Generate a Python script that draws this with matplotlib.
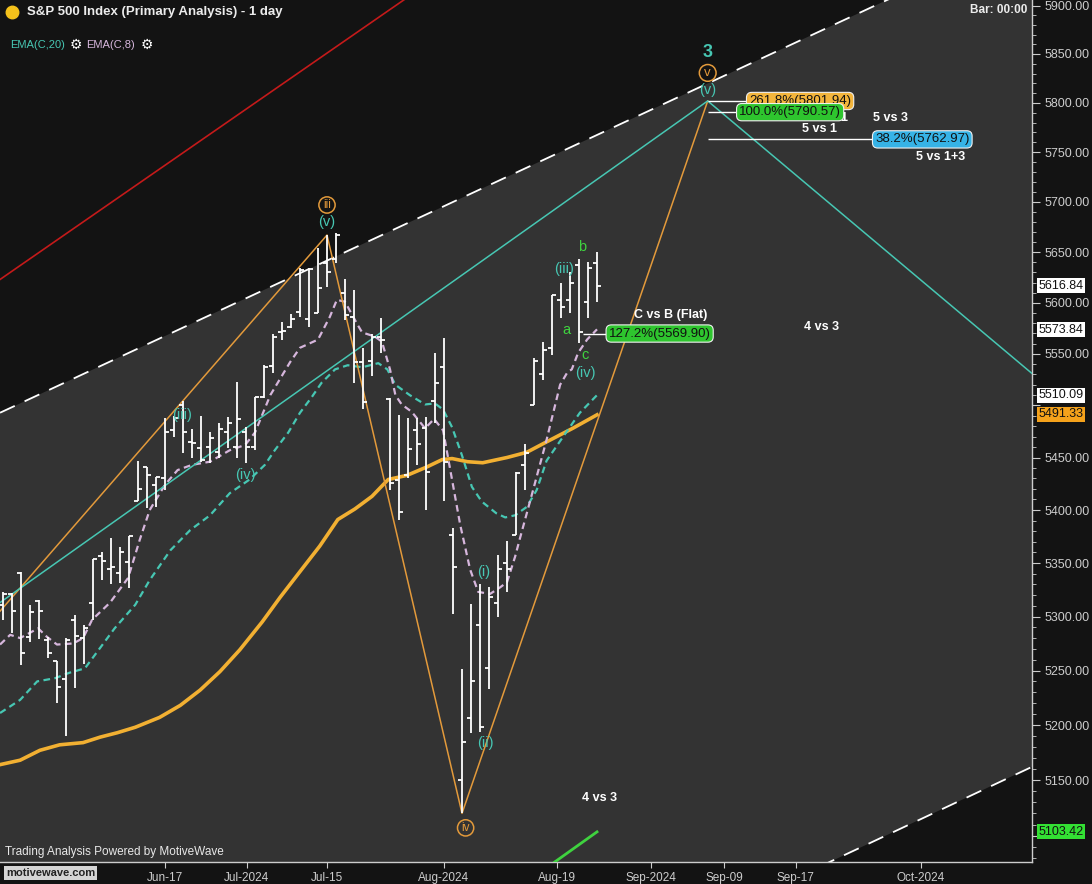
import numpy as np
import matplotlib.pyplot as plt
import matplotlib.transforms as mtrans
from matplotlib.ticker import FixedLocator, NullFormatter, FuncFormatter

plt.rcParams['font.family'] = ['Liberation Sans', 'DejaVu Sans']

# S&P 500 daily bars, bar 0 = 21 May 2024 ... bar 66 = 26 Aug 2024
opens = [5311, 5321, 5341, 5281, 5314, 5278, 5259, 5242, 5297, 5280,
         5313, 5357, 5344, 5341, 5351, 5409, 5441, 5424, 5430, 5476,
         5500, 5465, 5459, 5460, 5455, 5474, 5460, 5474, 5460, 5508,
         5538, 5571, 5576, 5591, 5584, 5590, 5639, 5643, 5610, 5586,
         5542, 5543, 5567, 5506, 5429, 5433, 5476, 5478, 5504, 5537,
         5376, 5150, 5206, 5292, 5252, 5313, 5350, 5376, 5443, 5500,
         5530, 5556, 5603, 5603, 5637, 5601, 5639]
highs = [5323, 5322, 5342, 5311, 5315, 5281, 5259, 5280, 5301, 5292,
         5354, 5360, 5374, 5365, 5375, 5447, 5441, 5431, 5488, 5490,
         5504, 5477, 5490, 5474, 5483, 5489, 5523, 5479, 5508, 5539,
         5569, 5581, 5589, 5634, 5634, 5654, 5667, 5669, 5623, 5613,
         5556, 5569, 5585, 5507, 5491, 5488, 5488, 5489, 5551, 5566,
         5383, 5251, 5312, 5330, 5328, 5358, 5371, 5436, 5463, 5546,
         5562, 5608, 5620, 5630, 5643, 5640, 5650]
lows = [5297, 5285, 5255, 5276, 5279, 5262, 5220, 5190, 5234, 5256,
        5297, 5334, 5330, 5331, 5327, 5409, 5402, 5403, 5419, 5470,
        5454, 5450, 5446, 5445, 5450, 5459, 5450, 5445, 5457, 5507,
        5531, 5564, 5575, 5586, 5576, 5590, 5616, 5639, 5583, 5522,
        5497, 5529, 5551, 5419, 5391, 5430, 5443, 5400, 5483, 5409,
        5302, 5120, 5193, 5194, 5233, 5300, 5323, 5376, 5419, 5500,
        5525, 5549, 5585, 5590, 5561, 5585, 5601]
closes = [5321, 5305, 5266, 5304, 5305, 5266, 5235, 5278, 5282, 5289,
          5354, 5352, 5346, 5360, 5375, 5420, 5433, 5431, 5474, 5488,
          5474, 5464, 5448, 5469, 5477, 5483, 5487, 5460, 5508, 5537,
          5567, 5572, 5584, 5632, 5633, 5615, 5630, 5667, 5588, 5542,
          5503, 5567, 5564, 5426, 5398, 5458, 5463, 5436, 5522, 5446,
          5346, 5185, 5240, 5198, 5318, 5344, 5344, 5435, 5454, 5543,
          5554, 5608, 5596, 5620, 5571, 5634, 5616.84]

# moving averages (bar position, value)
ema8_x = [-0.33, 0.8, 1.9, 3.9, 4.9, 6.0, 7.8, 8.9, 9.9, 11.9, 13.9, 15.2, 16.3,
          18.0, 19.4, 21.0, 23.0, 25.2, 26.9, 28.0, 29.7, 31.9, 33.0, 35.0,
          36.3, 37.1, 38.0, 39.3, 39.9, 41.3, 42.1, 43.0, 43.6, 44.3, 45.4,
          46.9, 47.9, 48.9, 49.7, 50.8, 51.9, 52.8, 54.1, 55.2, 56.0, 56.9,
          57.4, 58.9, 60.4, 61.9, 62.7, 63.2, 63.9, 64.9, 66.0]
ema8_y = [5274, 5283, 5280, 5289, 5281, 5274, 5275, 5280, 5297, 5313, 5336, 5372, 5400,
          5424, 5438, 5443, 5446, 5457, 5462, 5474, 5510, 5542, 5556, 5564,
          5586, 5603, 5601, 5580, 5571, 5567, 5562, 5535, 5510, 5501, 5494,
          5478, 5487, 5476, 5438, 5386, 5344, 5323, 5321, 5327, 5332, 5356,
          5372, 5419, 5467, 5520, 5532, 5535, 5551, 5564, 5574]
ema20_x = [-0.33, 1.9, 3.8, 5.8, 7.4, 9.1, 10.8, 12.4, 14.7, 16.3, 18.6, 20.8,
           23.0, 25.2, 27.4, 29.1, 30.2, 31.7, 33.0, 34.3, 35.4, 36.9, 38.3,
           39.9, 41.7, 42.7, 43.6, 45.2, 46.9, 48.0, 48.9, 49.9, 51.0, 52.1,
           53.2, 54.8, 55.8, 56.9, 58.2, 59.3, 60.4, 62.4, 64.1, 66.0]
ema20_y = [5211, 5223, 5240, 5243, 5248, 5252, 5271, 5289, 5311, 5334, 5362, 5381,
           5395, 5416, 5429, 5443, 5457, 5474, 5493, 5508, 5522, 5535, 5539,
           5537, 5541, 5535, 5520, 5510, 5501, 5502, 5496, 5479, 5452, 5422,
           5408, 5397, 5393, 5395, 5403, 5419, 5447, 5472, 5493, 5510]
ema50_x = [-0.33, 1.9, 4.1, 6.3, 8.9, 10.8, 12.7, 14.7, 17.4, 19.7, 21.9, 24.1,
           26.3, 28.8, 30.8, 33.0, 35.2, 37.2, 39.1, 41.0, 42.8, 44.9, 47.1,
           48.8, 49.9, 51.6, 53.3, 56.0, 58.2, 60.4, 63.3, 66.0]
ema50_y = [5164, 5168, 5177, 5182, 5184, 5189, 5193, 5198, 5207, 5218, 5232, 5249,
           5269, 5295, 5318, 5342, 5366, 5391, 5401, 5413, 5429, 5433, 5441,
           5448, 5449, 5446, 5445, 5450, 5455, 5465, 5478, 5491]

# wave count lines and channel
wave_x = [-0.33, 36, 51, 78.3]
wave_y = [5305, 5667, 5120, 5802]
trend_x = [-0.33, 78.3, 114.33]
trend_y = [5313, 5802, 5531]
red_x = [-0.33, 45.5]
red_y = [5623, 5912]
chan_up_x = [-0.33, 114.33]
chan_up_y = [5493, 5976]
chan_lo_x = [88, 114.33]
chan_lo_y = [5062, 5162]
green_x = [61.3, 66]
green_y = [5076.5, 5103.42]

fib_levels = [5801.94, 5790.57, 5762.97, 5569.90]
fib_text = ['261.8%(5801.94)', '100.0%(5790.57)', '38.2%(5762.97)', '127.2%(5569.90)']
fib_from = [78.3, 78.3, 78.3, 64.4]
fib_to = [82.7, 81.6, 96.7, 67.1]
fib_colors = ['#f3b53c', '#2ec52e', '#36b3e6', '#2ec52e']

tag_values = [5616.84, 5573.84, 5510.09, 5491.33, 5103.42]
tag_colors = ['white', 'white', 'white', '#f5a21b', '#33e033']

xtick_pos = [18, 27.1, 36, 49, 61.6, 72, 80.1, 88.1, 102]
xtick_lab = ['Jun-17', 'Jul-2024', 'Jul-15', 'Aug-2024', 'Aug-19',
             'Sep-2024', 'Sep-09', 'Sep-17', 'Oct-2024']

GRAY = '#333333'
DARK = '#131313'
AXC = '#cdcdcd'
TEAL = '#47c7b3'
ORANGE = '#e39a3b'
LGREEN = '#3fd23f'

fig = plt.figure(figsize=(10.92, 8.84), dpi=100, facecolor=DARK)
ax = fig.add_axes([0, 22 / 884, 1032 / 1092, 862 / 884])
ax.set_facecolor(GRAY)
ax.set_yscale('log')
ax.set_xlim(-1 / 3, 1029 / 9)
ax.set_ylim(5076.5, 5905.7)

# channel: outside is dark
ax.fill_between(chan_up_x, chan_up_y, 7000, color=DARK, zorder=0.5, lw=0)
ax.fill_between(chan_lo_x, chan_lo_y, 4000, color=DARK, zorder=0.5, lw=0)
ax.plot(chan_up_x, chan_up_y, color='white', lw=1.3, ls=(0, (9, 6)), zorder=1)
ax.plot(chan_lo_x, chan_lo_y, color='white', lw=1.3, ls=(0, (9, 6)), zorder=1)
ax.plot(red_x, red_y, color='#c41a1a', lw=1.2, zorder=1)

# moving averages
ax.plot(ema50_x, ema50_y, color='#f2b032', lw=2.6, zorder=2)
ax.plot(ema20_x, ema20_y, color=TEAL, lw=1.6, ls=(0, (3, 2)), zorder=2)
ax.plot(ema8_x, ema8_y, color='#d6b6dc', lw=1.6, ls=(0, (3, 2)), zorder=2)

# wave lines
ax.plot(wave_x, wave_y, color=ORANGE, lw=1.1, zorder=3)
ax.plot(trend_x, trend_y, color=TEAL, lw=1.1, zorder=3)
ax.plot(green_x, green_y, color=LGREEN, lw=2, zorder=3)

# OHLC bars
idx = np.arange(len(opens))
ax.vlines(idx, lows, highs, color='white', lw=1.3, zorder=4)
ax.hlines(opens, idx - 0.45, idx, color='white', lw=1.3, zorder=4)
ax.hlines(closes, idx, idx + 0.45, color='white', lw=1.3, zorder=4)

# fib levels
for lvl, txt, x0, x1, col in zip(fib_levels, fib_text, fib_from, fib_to, fib_colors):
    ax.hlines(lvl, x0, x1, color='white', lw=1, zorder=5)
    ax.text(x1 + 0.2, lvl, txt, fontsize=9.5, color='#111111', va='center', ha='left', zorder=7,
            bbox=dict(boxstyle='round,pad=0.2,rounding_size=0.4', fc=col, ec='#f0f0f0', lw=0.8))

# wave labels
def wlab(x, y, s, col, size=10.5, weight='normal', circle=False, z=6):
    kw = dict(fontsize=size, color=col, ha='center', va='center', weight=weight, zorder=z)
    if circle:
        kw['bbox'] = dict(boxstyle='circle,pad=0.18', fc='none', ec=col, lw=1.1)
    ax.text(x, y, s, **kw)

wlab(78.3, 5852, '3', TEAL, size=13, weight='bold')
wlab(78.3, 5830.6, 'v', ORANGE, size=9.5, circle=True)
wlab(78.3, 5813, '(v)', TEAL)
wlab(36, 5697, 'iii', ORANGE, size=8.5, circle=True)
wlab(36, 5680, '(v)', TEAL)
wlab(19.9, 5491, '(iii)', TEAL)
wlab(26.9, 5433, '(iv)', TEAL)
wlab(51.4, 5107, 'iv', ORANGE, size=8.5, circle=True)
wlab(53.4, 5342, '(i)', TEAL)
wlab(53.6, 5184, '(ii)', TEAL)
wlab(62.3, 5633, '(iii)', TEAL)
wlab(64.7, 5531, '(iv)', TEAL)
wlab(64.4, 5655, 'b', LGREEN)
wlab(62.6, 5573, 'a', LGREEN)
wlab(64.7, 5549, 'c', LGREEN)

# ratio notes
for x, y, s in [(93.4, 5784.7, '1'), (98.6, 5784.7, '5 vs 3'),
                (90.7, 5773.6, '5 vs 1'), (104.2, 5745.3, '5 vs 1+3'),
                (74.2, 5588.1, 'C vs B (Flat)'), (91.0, 5576.4, '4 vs 3'),
                (66.3, 5134, '4 vs 3')]:
    ax.text(x, y, s, fontsize=9, color='white', weight='bold', ha='center', va='center', zorder=6)

# axes styling
for s in ['top', 'left']:
    ax.spines[s].set_visible(False)
for s in ['right', 'bottom']:
    ax.spines[s].set_color(AXC)
    ax.spines[s].set_linewidth(1)
ax.yaxis.tick_right()
hidden = (5500, 5100)   # covered by the value tags
ax.yaxis.set_major_locator(FixedLocator(np.arange(5100, 5901, 50)))
ax.yaxis.set_major_formatter(FuncFormatter(lambda v, p: '' if round(v) in hidden else f'{v:.2f}'))
ax.yaxis.set_minor_locator(FixedLocator(np.arange(5080, 5910, 10)))
ax.yaxis.set_minor_formatter(NullFormatter())
ax.tick_params(axis='y', which='major', length=6, color=AXC, labelcolor=AXC, labelsize=9, pad=3)
ax.tick_params(axis='y', which='minor', length=3, color=AXC)
ax.set_xticks(xtick_pos)
ax.set_xticklabels(xtick_lab)
ax.tick_params(axis='x', length=4, color=AXC, labelcolor=AXC, labelsize=8.5, pad=3)

# last-value tags on the price axis
trans = mtrans.blended_transform_factory(ax.transAxes, ax.transData)
for v, col in zip(tag_values, tag_colors):
    ax.text(1.006, v, f'{v:.2f}', transform=trans, fontsize=9, color='#111111', ha='left', va='center',
            zorder=8, clip_on=False,
            bbox=dict(boxstyle='square,pad=0.12', fc=col, ec='none'))

# header and footer text
def ftext(x, y, s, **kw):
    fig.text(x / 1092, 1 - y / 884, s, va='center', **kw)

ax.plot([12 / 1092], [1 - 12 / 884], 'o', ms=9, color='#f5c21b', transform=fig.transFigure,
        clip_on=False, zorder=9)
ftext(27, 12, 'S&P 500 Index (Primary Analysis) - 1 day', color='#ececec', fontsize=9.5, weight='bold')
ftext(970, 10, 'Bar: 00:00', color='#ececec', fontsize=8.5, weight='bold')
ftext(10, 45, 'EMA(C,20)', color=TEAL, fontsize=8)
ftext(70, 45, '\u2699', color='white', fontsize=10, family='DejaVu Sans')
ftext(86, 45, 'EMA(C,8)', color='#d6b6dc', fontsize=8)
ftext(141, 45, '\u2699', color='white', fontsize=10, family='DejaVu Sans')
ftext(5, 852, 'Trading Analysis Powered by MotiveWave', color='#e8e8e8', fontsize=8.5)
ftext(6, 873, 'motivewave.com', color='#222222', fontsize=8, weight='bold',
      bbox=dict(boxstyle='square,pad=0.15', fc='#d4d4d4', ec='none'))

fig.savefig('out.png', dpi=100, facecolor=DARK)
